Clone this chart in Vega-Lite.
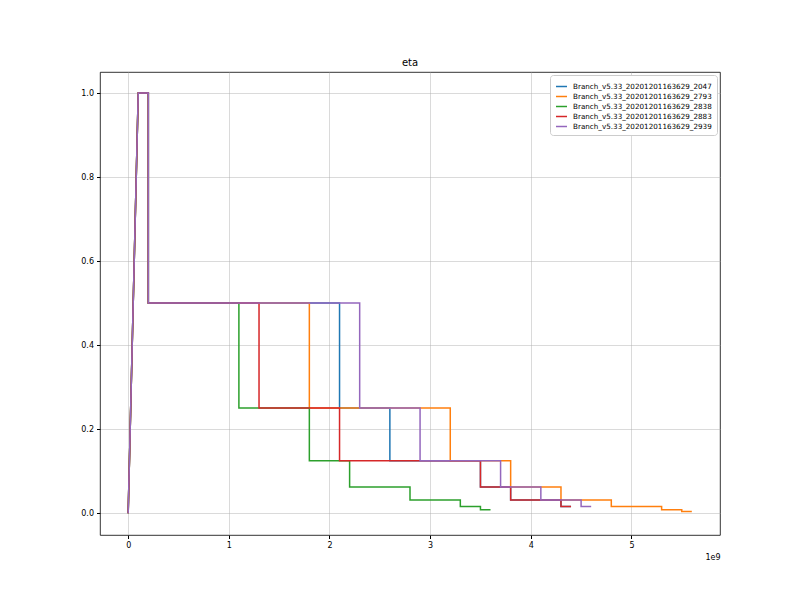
{
  "$schema": "https://vega.github.io/schema/vega-lite/v6.json",
  "width": 620,
  "height": 463,
  "autosize": {"type": "none"},
  "padding": {"left": 100, "top": 72, "right": 80, "bottom": 65},
  "background": "white",
  "config": {
    "font": "DejaVu Sans",
    "view": {"stroke": "#000000", "strokeWidth": 0.8},
    "axis": {"grid": true, "gridColor": "#b0b0b0", "gridOpacity": 0.6, "gridWidth": 0.8, "domain": false, "tickColor": "#000000", "tickSize": 3.5, "labelFontSize": 8, "labelColor": "#000000", "labelPadding": 3}
  },
  "title": {"text": "eta", "fontSize": 10, "fontWeight": "normal", "offset": 4, "color": "#000000"},
  "data": {
    "values": [
      {"s": "Branch_v5.33_20201201163629_2047", "i": 0, "x": 0, "y": 0},
      {"s": "Branch_v5.33_20201201163629_2047", "i": 1, "x": 0.1e9, "y": 1},
      {"s": "Branch_v5.33_20201201163629_2047", "i": 2, "x": 0.2e9, "y": 1},
      {"s": "Branch_v5.33_20201201163629_2047", "i": 3, "x": 0.2e9, "y": 0.5},
      {"s": "Branch_v5.33_20201201163629_2047", "i": 4, "x": 2.1e9, "y": 0.5},
      {"s": "Branch_v5.33_20201201163629_2047", "i": 5, "x": 2.1e9, "y": 0.25},
      {"s": "Branch_v5.33_20201201163629_2047", "i": 6, "x": 2.6e9, "y": 0.25},
      {"s": "Branch_v5.33_20201201163629_2047", "i": 7, "x": 2.6e9, "y": 0.125},
      {"s": "Branch_v5.33_20201201163629_2047", "i": 8, "x": 3.5e9, "y": 0.125},
      {"s": "Branch_v5.33_20201201163629_2047", "i": 9, "x": 3.5e9, "y": 0.0625},
      {"s": "Branch_v5.33_20201201163629_2047", "i": 10, "x": 3.8e9, "y": 0.0625},
      {"s": "Branch_v5.33_20201201163629_2047", "i": 11, "x": 3.8e9, "y": 0.03125},
      {"s": "Branch_v5.33_20201201163629_2047", "i": 12, "x": 4.3e9, "y": 0.03125},
      {"s": "Branch_v5.33_20201201163629_2047", "i": 13, "x": 4.3e9, "y": 0.015625},
      {"s": "Branch_v5.33_20201201163629_2047", "i": 14, "x": 4.4e9, "y": 0.015625},

      {"s": "Branch_v5.33_20201201163629_2793", "i": 0, "x": 0, "y": 0},
      {"s": "Branch_v5.33_20201201163629_2793", "i": 1, "x": 0.1e9, "y": 1},
      {"s": "Branch_v5.33_20201201163629_2793", "i": 2, "x": 0.2e9, "y": 1},
      {"s": "Branch_v5.33_20201201163629_2793", "i": 3, "x": 0.2e9, "y": 0.5},
      {"s": "Branch_v5.33_20201201163629_2793", "i": 4, "x": 1.8e9, "y": 0.5},
      {"s": "Branch_v5.33_20201201163629_2793", "i": 5, "x": 1.8e9, "y": 0.25},
      {"s": "Branch_v5.33_20201201163629_2793", "i": 6, "x": 3.2e9, "y": 0.25},
      {"s": "Branch_v5.33_20201201163629_2793", "i": 7, "x": 3.2e9, "y": 0.125},
      {"s": "Branch_v5.33_20201201163629_2793", "i": 8, "x": 3.8e9, "y": 0.125},
      {"s": "Branch_v5.33_20201201163629_2793", "i": 9, "x": 3.8e9, "y": 0.0625},
      {"s": "Branch_v5.33_20201201163629_2793", "i": 10, "x": 4.3e9, "y": 0.0625},
      {"s": "Branch_v5.33_20201201163629_2793", "i": 11, "x": 4.3e9, "y": 0.03125},
      {"s": "Branch_v5.33_20201201163629_2793", "i": 12, "x": 4.8e9, "y": 0.03125},
      {"s": "Branch_v5.33_20201201163629_2793", "i": 13, "x": 4.8e9, "y": 0.015625},
      {"s": "Branch_v5.33_20201201163629_2793", "i": 14, "x": 5.3e9, "y": 0.015625},
      {"s": "Branch_v5.33_20201201163629_2793", "i": 15, "x": 5.3e9, "y": 0.0078125},
      {"s": "Branch_v5.33_20201201163629_2793", "i": 16, "x": 5.5e9, "y": 0.0078125},
      {"s": "Branch_v5.33_20201201163629_2793", "i": 17, "x": 5.5e9, "y": 0.00390625},
      {"s": "Branch_v5.33_20201201163629_2793", "i": 18, "x": 5.6e9, "y": 0.00390625},

      {"s": "Branch_v5.33_20201201163629_2838", "i": 0, "x": 0, "y": 0},
      {"s": "Branch_v5.33_20201201163629_2838", "i": 1, "x": 0.1e9, "y": 1},
      {"s": "Branch_v5.33_20201201163629_2838", "i": 2, "x": 0.2e9, "y": 1},
      {"s": "Branch_v5.33_20201201163629_2838", "i": 3, "x": 0.2e9, "y": 0.5},
      {"s": "Branch_v5.33_20201201163629_2838", "i": 4, "x": 1.1e9, "y": 0.5},
      {"s": "Branch_v5.33_20201201163629_2838", "i": 5, "x": 1.1e9, "y": 0.25},
      {"s": "Branch_v5.33_20201201163629_2838", "i": 6, "x": 1.8e9, "y": 0.25},
      {"s": "Branch_v5.33_20201201163629_2838", "i": 7, "x": 1.8e9, "y": 0.125},
      {"s": "Branch_v5.33_20201201163629_2838", "i": 8, "x": 2.2e9, "y": 0.125},
      {"s": "Branch_v5.33_20201201163629_2838", "i": 9, "x": 2.2e9, "y": 0.0625},
      {"s": "Branch_v5.33_20201201163629_2838", "i": 10, "x": 2.8e9, "y": 0.0625},
      {"s": "Branch_v5.33_20201201163629_2838", "i": 11, "x": 2.8e9, "y": 0.03125},
      {"s": "Branch_v5.33_20201201163629_2838", "i": 12, "x": 3.3e9, "y": 0.03125},
      {"s": "Branch_v5.33_20201201163629_2838", "i": 13, "x": 3.3e9, "y": 0.015625},
      {"s": "Branch_v5.33_20201201163629_2838", "i": 14, "x": 3.5e9, "y": 0.015625},
      {"s": "Branch_v5.33_20201201163629_2838", "i": 15, "x": 3.5e9, "y": 0.0078125},
      {"s": "Branch_v5.33_20201201163629_2838", "i": 16, "x": 3.6e9, "y": 0.0078125},

      {"s": "Branch_v5.33_20201201163629_2883", "i": 0, "x": 0, "y": 0},
      {"s": "Branch_v5.33_20201201163629_2883", "i": 1, "x": 0.1e9, "y": 1},
      {"s": "Branch_v5.33_20201201163629_2883", "i": 2, "x": 0.2e9, "y": 1},
      {"s": "Branch_v5.33_20201201163629_2883", "i": 3, "x": 0.2e9, "y": 0.5},
      {"s": "Branch_v5.33_20201201163629_2883", "i": 4, "x": 1.3e9, "y": 0.5},
      {"s": "Branch_v5.33_20201201163629_2883", "i": 5, "x": 1.3e9, "y": 0.25},
      {"s": "Branch_v5.33_20201201163629_2883", "i": 6, "x": 2.1e9, "y": 0.25},
      {"s": "Branch_v5.33_20201201163629_2883", "i": 7, "x": 2.1e9, "y": 0.125},
      {"s": "Branch_v5.33_20201201163629_2883", "i": 8, "x": 3.5e9, "y": 0.125},
      {"s": "Branch_v5.33_20201201163629_2883", "i": 9, "x": 3.5e9, "y": 0.0625},
      {"s": "Branch_v5.33_20201201163629_2883", "i": 10, "x": 3.8e9, "y": 0.0625},
      {"s": "Branch_v5.33_20201201163629_2883", "i": 11, "x": 3.8e9, "y": 0.03125},
      {"s": "Branch_v5.33_20201201163629_2883", "i": 12, "x": 4.3e9, "y": 0.03125},
      {"s": "Branch_v5.33_20201201163629_2883", "i": 13, "x": 4.3e9, "y": 0.015625},
      {"s": "Branch_v5.33_20201201163629_2883", "i": 14, "x": 4.4e9, "y": 0.015625},

      {"s": "Branch_v5.33_20201201163629_2939", "i": 0, "x": 0, "y": 0},
      {"s": "Branch_v5.33_20201201163629_2939", "i": 1, "x": 0.1e9, "y": 1},
      {"s": "Branch_v5.33_20201201163629_2939", "i": 2, "x": 0.2e9, "y": 1},
      {"s": "Branch_v5.33_20201201163629_2939", "i": 3, "x": 0.2e9, "y": 0.5},
      {"s": "Branch_v5.33_20201201163629_2939", "i": 4, "x": 2.3e9, "y": 0.5},
      {"s": "Branch_v5.33_20201201163629_2939", "i": 5, "x": 2.3e9, "y": 0.25},
      {"s": "Branch_v5.33_20201201163629_2939", "i": 6, "x": 2.9e9, "y": 0.25},
      {"s": "Branch_v5.33_20201201163629_2939", "i": 7, "x": 2.9e9, "y": 0.125},
      {"s": "Branch_v5.33_20201201163629_2939", "i": 8, "x": 3.7e9, "y": 0.125},
      {"s": "Branch_v5.33_20201201163629_2939", "i": 9, "x": 3.7e9, "y": 0.0625},
      {"s": "Branch_v5.33_20201201163629_2939", "i": 10, "x": 4.1e9, "y": 0.0625},
      {"s": "Branch_v5.33_20201201163629_2939", "i": 11, "x": 4.1e9, "y": 0.03125},
      {"s": "Branch_v5.33_20201201163629_2939", "i": 12, "x": 4.5e9, "y": 0.03125},
      {"s": "Branch_v5.33_20201201163629_2939", "i": 13, "x": 4.5e9, "y": 0.015625},
      {"s": "Branch_v5.33_20201201163629_2939", "i": 14, "x": 4.6e9, "y": 0.015625}
    ]
  },
  "mark": {"type": "line", "strokeWidth": 1.5, "clip": true},
  "encoding": {
    "x": {
      "field": "x", "type": "quantitative",
      "scale": {"domain": [-0.28e9, 5.88e9], "nice": false, "zero": false},
      "axis": {"values": [0, 1e9, 2e9, 3e9, 4e9, 5e9], "labelExpr": "format(datum.value/1e9, 'd')", "title": "1e9", "titleFontSize": 8, "titleFontWeight": "normal", "titleAnchor": "end", "titleAlign": "right", "titleColor": "#000000", "titlePadding": 4}
    },
    "y": {
      "field": "y", "type": "quantitative",
      "scale": {"domain": [-0.052, 1.05], "nice": false, "zero": false},
      "axis": {"values": [0, 0.2, 0.4, 0.6, 0.8, 1.0], "format": ".1f", "title": null}
    },
    "color": {
      "field": "s", "type": "nominal",
      "scale": {"range": ["#1f77b4", "#ff7f0e", "#2ca02c", "#d62728", "#9467bd"]},
      "legend": {"title": null, "orient": "top-right", "offset": 3, "symbolType": "stroke", "symbolStrokeWidth": 1.5, "symbolSize": 120, "labelFontSize": 7.2, "labelOffset": 5, "labelColor": "#000000", "rowPadding": -1.5, "padding": 5, "strokeColor": "#cccccc", "fillColor": "white", "cornerRadius": 3}
    },
    "order": {"field": "i", "type": "quantitative"}
  }
}
